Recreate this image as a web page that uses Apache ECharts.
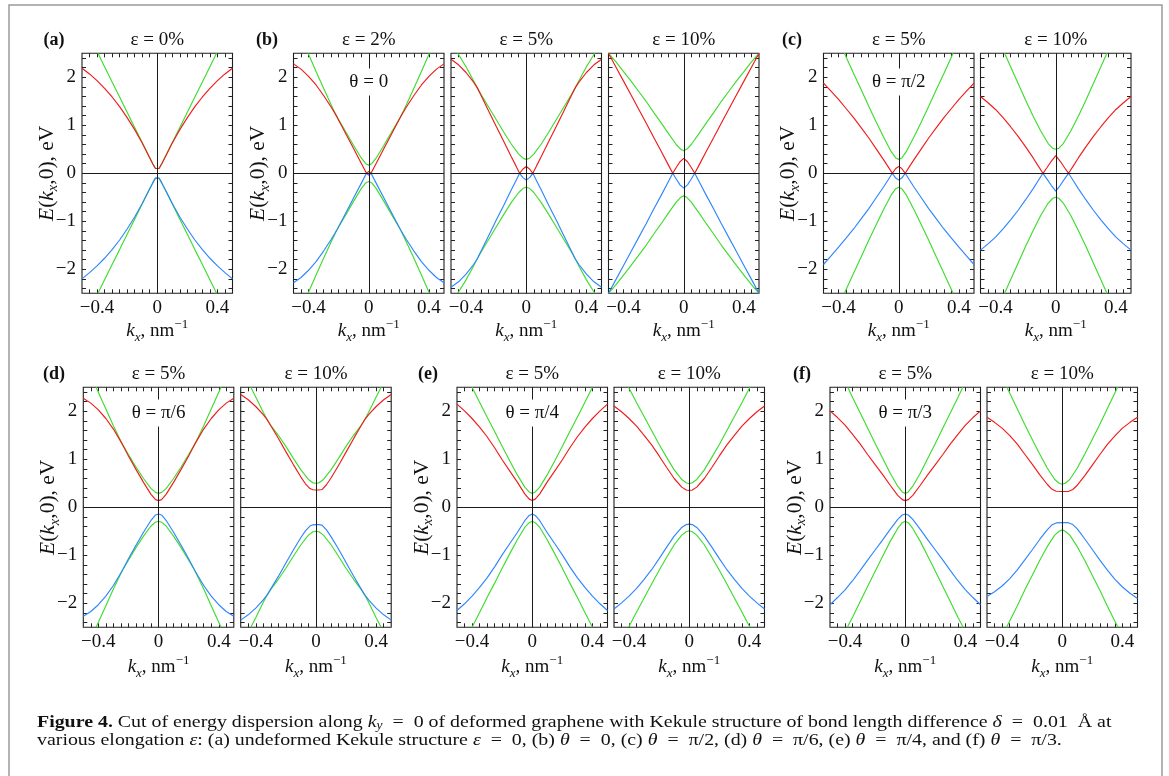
<!DOCTYPE html>
<html><head><meta charset="utf-8">
<script src="https://cdn.jsdelivr.net/npm/echarts@6/dist/echarts.min.js"></script>
<style>html,body{margin:0;padding:0;background:#fff}#c{width:1169px;height:776px}</style>
</head><body><div id="c"></div><script>
// ---------- axis ticks / labels ----------
const X_LABELS = [-0.4, 0, 0.4];
const Y_LABELS = [-2, -1, 0, 1, 2];
const X_TICKS = [-0.45,-0.4,-0.35,-0.3,-0.25,-0.2,-0.15,-0.1,-0.05,0,0.05,0.1,0.15,0.2,0.25,0.3,0.35,0.4,0.45];
const Y_TICKS = [-2.4,-2.2,-2,-1.8,-1.6,-1.4,-1.2,-1,-0.8,-0.6,-0.4,-0.2,0,0.2,0.4,0.6,0.8,1,1.2,1.4,1.6,1.8,2,2.2,2.4];

// ---------- panel texts ----------
const TITLES = ['ε = 0%','ε = 2%','ε = 5%','ε = 10%','ε = 5%','ε = 10%','ε = 5%','ε = 10%','ε = 5%','ε = 10%','ε = 5%','ε = 10%'];

// ---------- data: [kx, E] ----------
// (a) eps = 0
const A_gu = [[-0.394,2.5],[-0.35,2.22],[-0.3,1.9],[-0.25,1.59],[-0.2,1.27],[-0.15,0.955],[-0.1,0.64],[-0.06,0.39],[-0.03,0.2],[-0.012,0.1],[0,0.06],[0.012,0.1],[0.03,0.2],[0.06,0.39],[0.1,0.64],[0.15,0.955],[0.2,1.27],[0.25,1.59],[0.3,1.9],[0.35,2.22],[0.394,2.5]];
const A_gl = [[-0.394,-2.5],[-0.35,-2.22],[-0.3,-1.9],[-0.25,-1.59],[-0.2,-1.27],[-0.15,-0.955],[-0.1,-0.64],[-0.06,-0.39],[-0.03,-0.2],[-0.012,-0.1],[0,-0.06],[0.012,-0.1],[0.03,-0.2],[0.06,-0.39],[0.1,-0.64],[0.15,-0.955],[0.2,-1.27],[0.25,-1.59],[0.3,-1.9],[0.35,-2.22],[0.394,-2.5]];
const A_r = [[-0.5,2.19],[-0.45,2.07],[-0.4,1.93],[-0.35,1.77],[-0.3,1.59],[-0.25,1.39],[-0.2,1.16],[-0.15,0.91],[-0.1,0.63],[-0.06,0.38],[-0.03,0.2],[-0.012,0.1],[0,0.06],[0.012,0.1],[0.03,0.2],[0.06,0.38],[0.1,0.63],[0.15,0.91],[0.2,1.16],[0.25,1.39],[0.3,1.59],[0.35,1.77],[0.4,1.93],[0.45,2.07],[0.5,2.19]];
const A_b = [[-0.5,-2.2],[-0.45,-2.07],[-0.4,-1.93],[-0.35,-1.77],[-0.3,-1.59],[-0.25,-1.39],[-0.2,-1.16],[-0.15,-0.91],[-0.1,-0.63],[-0.06,-0.38],[-0.03,-0.2],[-0.012,-0.1],[0,-0.06],[0.012,-0.1],[0.03,-0.2],[0.06,-0.38],[0.1,-0.63],[0.15,-0.91],[0.2,-1.16],[0.25,-1.39],[0.3,-1.59],[0.35,-1.77],[0.4,-1.93],[0.45,-2.07],[0.5,-2.2]];

// (b) theta = 0, eps = 2%
const B2_gu = [[-0.403,2.5],[-0.35,2.12],[-0.3,1.77],[-0.25,1.43],[-0.212,1.18],[-0.15,0.85],[-0.1,0.58],[-0.05,0.32],[-0.02,0.2],[0,0.17],[0.02,0.2],[0.05,0.32],[0.1,0.58],[0.15,0.85],[0.212,1.18],[0.25,1.43],[0.3,1.77],[0.35,2.12],[0.403,2.5]];
const B2_gl = [[-0.403,-2.5],[-0.35,-2.12],[-0.3,-1.77],[-0.25,-1.43],[-0.212,-1.18],[-0.15,-0.85],[-0.1,-0.58],[-0.05,-0.32],[-0.02,-0.2],[0,-0.17],[0.02,-0.2],[0.05,-0.32],[0.1,-0.58],[0.15,-0.85],[0.212,-1.18],[0.25,-1.43],[0.3,-1.77],[0.35,-2.12],[0.403,-2.5]];
const B2_r = [[-0.5,2.28],[-0.45,2.17],[-0.4,2.02],[-0.35,1.84],[-0.3,1.62],[-0.25,1.38],[-0.212,1.18],[-0.15,0.81],[-0.1,0.51],[-0.05,0.21],[-0.015,0.0],[0,0.04],[0.015,0.0],[0.05,0.21],[0.1,0.51],[0.15,0.81],[0.212,1.18],[0.25,1.38],[0.3,1.62],[0.35,1.84],[0.4,2.02],[0.45,2.17],[0.5,2.28]];
const B2_b = [[-0.5,-2.28],[-0.45,-2.17],[-0.4,-2.02],[-0.35,-1.84],[-0.3,-1.62],[-0.25,-1.38],[-0.212,-1.18],[-0.15,-0.81],[-0.1,-0.51],[-0.05,-0.21],[-0.015,0.0],[0,-0.04],[0.015,0.0],[0.05,-0.21],[0.1,-0.51],[0.15,-0.81],[0.212,-1.18],[0.25,-1.38],[0.3,-1.62],[0.35,-1.84],[0.4,-2.02],[0.45,-2.17],[0.5,-2.28]];

// (b) theta = 0, eps = 5%
const B5_gu = [[-0.455,2.5],[-0.4,2.22],[-0.35,1.93],[-0.327,1.79],[-0.3,1.64],[-0.25,1.38],[-0.2,1.12],[-0.15,0.86],[-0.1,0.61],[-0.05,0.4],[-0.02,0.31],[0,0.29],[0.02,0.31],[0.05,0.4],[0.1,0.61],[0.15,0.86],[0.2,1.12],[0.25,1.38],[0.3,1.64],[0.327,1.79],[0.35,1.93],[0.4,2.22],[0.455,2.5]];
const B5_gl = [[-0.455,-2.5],[-0.4,-2.22],[-0.35,-1.93],[-0.327,-1.79],[-0.3,-1.64],[-0.25,-1.38],[-0.2,-1.12],[-0.15,-0.86],[-0.1,-0.61],[-0.05,-0.4],[-0.02,-0.31],[0,-0.29],[0.02,-0.31],[0.05,-0.4],[0.1,-0.61],[0.15,-0.86],[0.2,-1.12],[0.25,-1.38],[0.3,-1.64],[0.327,-1.79],[0.35,-1.93],[0.4,-2.22],[0.455,-2.5]];
const B5_r = [[-0.5,2.375],[-0.45,2.26],[-0.4,2.1],[-0.35,1.9],[-0.327,1.79],[-0.3,1.62],[-0.25,1.3],[-0.2,0.98],[-0.15,0.67],[-0.1,0.35],[-0.07,0.165],[-0.044,0.0],[-0.022,0.09],[0,0.14],[0.022,0.09],[0.044,0.0],[0.07,0.165],[0.1,0.35],[0.15,0.67],[0.2,0.98],[0.25,1.3],[0.3,1.62],[0.327,1.79],[0.35,1.9],[0.4,2.1],[0.45,2.26],[0.5,2.375]];
const B5_b = [[-0.5,-2.375],[-0.45,-2.26],[-0.4,-2.1],[-0.35,-1.9],[-0.327,-1.79],[-0.3,-1.62],[-0.25,-1.3],[-0.2,-0.98],[-0.15,-0.67],[-0.1,-0.35],[-0.07,-0.165],[-0.044,0.0],[-0.022,-0.09],[0,-0.14],[0.022,-0.09],[0.044,0.0],[0.07,-0.165],[0.1,-0.35],[0.15,-0.67],[0.2,-0.98],[0.25,-1.3],[0.3,-1.62],[0.327,-1.79],[0.35,-1.9],[0.4,-2.1],[0.45,-2.26],[0.5,-2.375]];

// (b) theta = 0, eps = 10%
const B10_gu = [[-0.5,2.5],[-0.45,2.32],[-0.4,2.12],[-0.35,1.92],[-0.3,1.71],[-0.25,1.5],[-0.2,1.27],[-0.15,1.05],[-0.1,0.82],[-0.05,0.6],[-0.02,0.5],[0,0.47],[0.02,0.5],[0.05,0.6],[0.1,0.82],[0.15,1.05],[0.2,1.27],[0.25,1.5],[0.3,1.71],[0.35,1.92],[0.4,2.12],[0.45,2.32],[0.5,2.5]];
const B10_gl = [[-0.5,-2.5],[-0.45,-2.32],[-0.4,-2.12],[-0.35,-1.92],[-0.3,-1.71],[-0.25,-1.5],[-0.2,-1.27],[-0.15,-1.05],[-0.1,-0.82],[-0.05,-0.6],[-0.02,-0.5],[0,-0.47],[0.02,-0.5],[0.05,-0.6],[0.1,-0.82],[0.15,-1.05],[0.2,-1.27],[0.25,-1.5],[0.3,-1.71],[0.35,-1.92],[0.4,-2.12],[0.45,-2.32],[0.5,-2.5]];
const B10_r = [[-0.5,2.5],[-0.45,2.21],[-0.4,1.92],[-0.35,1.63],[-0.3,1.34],[-0.25,1.05],[-0.2,0.75],[-0.15,0.46],[-0.1,0.16],[-0.073,0.0],[-0.05,0.12],[-0.025,0.24],[0,0.31],[0.025,0.24],[0.05,0.12],[0.073,0.0],[0.1,0.16],[0.15,0.46],[0.2,0.75],[0.25,1.05],[0.3,1.34],[0.35,1.63],[0.4,1.92],[0.45,2.21],[0.5,2.5]];
const B10_b = [[-0.5,-2.5],[-0.45,-2.21],[-0.4,-1.92],[-0.35,-1.63],[-0.3,-1.34],[-0.25,-1.05],[-0.2,-0.75],[-0.15,-0.46],[-0.1,-0.16],[-0.073,0.0],[-0.05,-0.12],[-0.025,-0.24],[0,-0.31],[0.025,-0.24],[0.05,-0.12],[0.073,0.0],[0.1,-0.16],[0.15,-0.46],[0.2,-0.75],[0.25,-1.05],[0.3,-1.34],[0.35,-1.63],[0.4,-1.92],[0.45,-2.21],[0.5,-2.5]];

// (c) theta = pi/2, eps = 5%
const C5_gu = [[-0.361,2.5],[-0.3,2.08],[-0.25,1.745],[-0.2,1.4],[-0.15,1.07],[-0.1,0.75],[-0.05,0.45],[-0.02,0.32],[0,0.29],[0.02,0.32],[0.05,0.45],[0.1,0.75],[0.15,1.07],[0.2,1.4],[0.25,1.745],[0.3,2.08],[0.361,2.5]];
const C5_gl = [[-0.361,-2.5],[-0.3,-2.08],[-0.25,-1.745],[-0.2,-1.4],[-0.15,-1.07],[-0.1,-0.75],[-0.05,-0.45],[-0.02,-0.32],[0,-0.29],[0.02,-0.32],[0.05,-0.45],[0.1,-0.75],[0.15,-1.07],[0.2,-1.4],[0.25,-1.745],[0.3,-2.08],[0.361,-2.5]];
const C5_r = [[-0.5,1.88],[-0.45,1.71],[-0.4,1.54],[-0.35,1.35],[-0.3,1.16],[-0.25,0.95],[-0.2,0.74],[-0.15,0.51],[-0.1,0.28],[-0.07,0.135],[-0.043,0.0],[-0.02,0.1],[0,0.14],[0.02,0.1],[0.043,0.0],[0.07,0.135],[0.1,0.28],[0.15,0.51],[0.2,0.74],[0.25,0.95],[0.3,1.16],[0.35,1.35],[0.4,1.54],[0.45,1.71],[0.5,1.88]];
const C5_b = [[-0.5,-1.9],[-0.45,-1.72],[-0.4,-1.54],[-0.35,-1.35],[-0.3,-1.16],[-0.25,-0.95],[-0.2,-0.74],[-0.15,-0.51],[-0.1,-0.28],[-0.07,-0.135],[-0.043,0.0],[-0.02,-0.1],[0,-0.14],[0.02,-0.1],[0.043,0.0],[0.07,-0.135],[0.1,-0.28],[0.15,-0.51],[0.2,-0.74],[0.25,-0.95],[0.3,-1.16],[0.35,-1.35],[0.4,-1.54],[0.45,-1.72],[0.5,-1.9]];

// (c) theta = pi/2, eps = 10%
const C10_gu = [[-0.34,2.5],[-0.3,2.22],[-0.25,1.87],[-0.2,1.52],[-0.15,1.19],[-0.1,0.88],[-0.05,0.62],[-0.02,0.52],[0,0.5],[0.02,0.52],[0.05,0.62],[0.1,0.88],[0.15,1.19],[0.2,1.52],[0.25,1.87],[0.3,2.22],[0.34,2.5]];
const C10_gl = [[-0.34,-2.5],[-0.3,-2.22],[-0.25,-1.87],[-0.2,-1.52],[-0.15,-1.19],[-0.1,-0.88],[-0.05,-0.62],[-0.02,-0.52],[0,-0.5],[0.02,-0.52],[0.05,-0.62],[0.1,-0.88],[0.15,-1.19],[0.2,-1.52],[0.25,-1.87],[0.3,-2.22],[0.34,-2.5]];
const C10_r = [[-0.5,1.6],[-0.45,1.47],[-0.4,1.33],[-0.35,1.16],[-0.3,0.97],[-0.25,0.77],[-0.2,0.55],[-0.15,0.32],[-0.12,0.17],[-0.085,0.0],[-0.06,0.11],[-0.03,0.25],[0,0.37],[0.03,0.25],[0.06,0.11],[0.085,0.0],[0.12,0.17],[0.15,0.32],[0.2,0.55],[0.25,0.77],[0.3,0.97],[0.35,1.16],[0.4,1.33],[0.45,1.47],[0.5,1.6]];
const C10_b = [[-0.5,-1.6],[-0.45,-1.47],[-0.4,-1.33],[-0.35,-1.16],[-0.3,-0.97],[-0.25,-0.77],[-0.2,-0.55],[-0.15,-0.32],[-0.12,-0.17],[-0.085,0.0],[-0.06,-0.11],[-0.03,-0.25],[0,-0.37],[0.03,-0.25],[0.06,-0.11],[0.085,0.0],[0.12,-0.17],[0.15,-0.32],[0.2,-0.55],[0.25,-0.77],[0.3,-0.97],[0.35,-1.16],[0.4,-1.33],[0.45,-1.47],[0.5,-1.6]];

// (d) theta = pi/6, eps = 5%
const D5_gu = [[-0.415,2.5],[-0.35,2.05],[-0.3,1.7],[-0.238,1.3],[-0.2,1.1],[-0.15,0.84],[-0.1,0.6],[-0.05,0.39],[-0.02,0.31],[0,0.29],[0.02,0.31],[0.05,0.39],[0.1,0.6],[0.15,0.84],[0.2,1.1],[0.238,1.3],[0.3,1.7],[0.35,2.05],[0.415,2.5]];
const D5_gl = [[-0.415,-2.5],[-0.35,-2.05],[-0.3,-1.7],[-0.238,-1.3],[-0.2,-1.1],[-0.15,-0.84],[-0.1,-0.6],[-0.05,-0.39],[-0.02,-0.31],[0,-0.29],[0.02,-0.31],[0.05,-0.39],[0.1,-0.6],[0.15,-0.84],[0.2,-1.1],[0.238,-1.3],[0.3,-1.7],[0.35,-2.05],[0.415,-2.5]];
const D5_r = [[-0.5,2.27],[-0.45,2.17],[-0.4,2.03],[-0.35,1.85],[-0.3,1.63],[-0.238,1.3],[-0.2,1.07],[-0.15,0.79],[-0.1,0.52],[-0.05,0.27],[-0.02,0.16],[0,0.14],[0.02,0.16],[0.05,0.27],[0.1,0.52],[0.15,0.79],[0.2,1.07],[0.238,1.3],[0.3,1.63],[0.35,1.85],[0.4,2.03],[0.45,2.17],[0.5,2.27]];
const D5_b = [[-0.5,-2.27],[-0.45,-2.17],[-0.4,-2.03],[-0.35,-1.85],[-0.3,-1.63],[-0.238,-1.3],[-0.2,-1.07],[-0.15,-0.79],[-0.1,-0.52],[-0.05,-0.27],[-0.02,-0.16],[0,-0.14],[0.02,-0.16],[0.05,-0.27],[0.1,-0.52],[0.15,-0.79],[0.2,-1.07],[0.238,-1.3],[0.3,-1.63],[0.35,-1.85],[0.4,-2.03],[0.45,-2.17],[0.5,-2.27]];

// (d) theta = pi/6, eps = 10%
const D10_gu = [[-0.433,2.5],[-0.4,2.3],[-0.35,1.98],[-0.323,1.82],[-0.3,1.71],[-0.25,1.5],[-0.2,1.27],[-0.15,1.02],[-0.1,0.78],[-0.05,0.58],[-0.02,0.51],[0,0.5],[0.02,0.51],[0.05,0.58],[0.1,0.78],[0.15,1.02],[0.2,1.27],[0.25,1.5],[0.3,1.71],[0.323,1.82],[0.35,1.98],[0.4,2.3],[0.433,2.5]];
const D10_gl = [[-0.433,-2.5],[-0.4,-2.3],[-0.35,-1.98],[-0.323,-1.82],[-0.3,-1.71],[-0.25,-1.5],[-0.2,-1.27],[-0.15,-1.02],[-0.1,-0.78],[-0.05,-0.58],[-0.02,-0.51],[0,-0.5],[0.02,-0.51],[0.05,-0.58],[0.1,-0.78],[0.15,-1.02],[0.2,-1.27],[0.25,-1.5],[0.3,-1.71],[0.323,-1.82],[0.35,-1.98],[0.4,-2.3],[0.433,-2.5]];
const D10_r = [[-0.5,2.35],[-0.45,2.24],[-0.4,2.1],[-0.35,1.93],[-0.323,1.82],[-0.3,1.7],[-0.25,1.44],[-0.2,1.16],[-0.15,0.89],[-0.1,0.63],[-0.07,0.49],[-0.04,0.39],[-0.02,0.365],[0,0.36],[0.02,0.36],[0.04,0.37],[0.07,0.47],[0.1,0.61],[0.15,0.87],[0.2,1.15],[0.25,1.43],[0.3,1.7],[0.323,1.82],[0.35,1.93],[0.4,2.1],[0.45,2.24],[0.5,2.35]];
const D10_b = [[-0.5,-2.35],[-0.45,-2.24],[-0.4,-2.1],[-0.35,-1.93],[-0.323,-1.82],[-0.3,-1.7],[-0.25,-1.44],[-0.2,-1.16],[-0.15,-0.89],[-0.1,-0.63],[-0.07,-0.49],[-0.04,-0.39],[-0.02,-0.365],[0,-0.36],[0.02,-0.36],[0.04,-0.37],[0.07,-0.47],[0.1,-0.61],[0.15,-0.87],[0.2,-1.15],[0.25,-1.43],[0.3,-1.7],[0.323,-1.82],[0.35,-1.93],[0.4,-2.1],[0.45,-2.24],[0.5,-2.35]];

// (e) theta = pi/4, eps = 5%
const E5_gu = [[-0.4,2.5],[-0.35,2.19],[-0.3,1.88],[-0.25,1.58],[-0.2,1.27],[-0.15,0.97],[-0.1,0.68],[-0.05,0.42],[-0.02,0.32],[0,0.29],[0.02,0.32],[0.05,0.42],[0.1,0.68],[0.15,0.97],[0.2,1.27],[0.25,1.58],[0.3,1.88],[0.35,2.19],[0.4,2.5]];
const E5_gl = [[-0.4,-2.5],[-0.35,-2.19],[-0.3,-1.88],[-0.25,-1.58],[-0.2,-1.27],[-0.15,-0.97],[-0.1,-0.68],[-0.05,-0.42],[-0.02,-0.32],[0,-0.29],[0.02,-0.32],[0.05,-0.42],[0.1,-0.68],[0.15,-0.97],[0.2,-1.27],[0.25,-1.58],[0.3,-1.88],[0.35,-2.19],[0.4,-2.5]];
const E5_r = [[-0.5,2.15],[-0.45,2.01],[-0.4,1.85],[-0.35,1.67],[-0.3,1.47],[-0.25,1.24],[-0.2,0.99],[-0.15,0.76],[-0.1,0.53],[-0.05,0.28],[-0.02,0.17],[0,0.14],[0.02,0.17],[0.05,0.28],[0.1,0.53],[0.15,0.76],[0.2,0.99],[0.25,1.24],[0.3,1.47],[0.35,1.67],[0.4,1.85],[0.45,2.01],[0.5,2.15]];
const E5_b = [[-0.5,-2.15],[-0.45,-2.01],[-0.4,-1.85],[-0.35,-1.67],[-0.3,-1.47],[-0.25,-1.24],[-0.2,-0.99],[-0.15,-0.76],[-0.1,-0.53],[-0.05,-0.28],[-0.02,-0.17],[0,-0.14],[0.02,-0.17],[0.05,-0.28],[0.1,-0.53],[0.15,-0.76],[0.2,-0.99],[0.25,-1.24],[0.3,-1.47],[0.35,-1.67],[0.4,-1.85],[0.45,-2.01],[0.5,-2.15]];

// (e) theta = pi/4, eps = 10%
const E10_gu = [[-0.403,2.5],[-0.35,2.18],[-0.3,1.89],[-0.25,1.6],[-0.2,1.31],[-0.15,1.04],[-0.1,0.78],[-0.05,0.58],[-0.02,0.51],[0,0.49],[0.02,0.51],[0.05,0.58],[0.1,0.78],[0.15,1.04],[0.2,1.31],[0.25,1.6],[0.3,1.89],[0.35,2.18],[0.403,2.5]];
const E10_gl = [[-0.403,-2.5],[-0.35,-2.18],[-0.3,-1.89],[-0.25,-1.6],[-0.2,-1.31],[-0.15,-1.04],[-0.1,-0.78],[-0.05,-0.58],[-0.02,-0.51],[0,-0.49],[0.02,-0.51],[0.05,-0.58],[0.1,-0.78],[0.15,-1.04],[0.2,-1.31],[0.25,-1.6],[0.3,-1.89],[0.35,-2.18],[0.403,-2.5]];
const E10_r = [[-0.5,2.11],[-0.45,1.99],[-0.4,1.85],[-0.35,1.69],[-0.3,1.5],[-0.25,1.3],[-0.2,1.07],[-0.15,0.83],[-0.1,0.6],[-0.05,0.42],[-0.02,0.36],[0,0.35],[0.02,0.36],[0.05,0.42],[0.1,0.6],[0.15,0.83],[0.2,1.07],[0.25,1.3],[0.3,1.5],[0.35,1.69],[0.4,1.85],[0.45,1.99],[0.5,2.11]];
const E10_b = [[-0.5,-2.12],[-0.45,-1.99],[-0.4,-1.85],[-0.35,-1.69],[-0.3,-1.5],[-0.25,-1.3],[-0.2,-1.07],[-0.15,-0.83],[-0.1,-0.6],[-0.05,-0.42],[-0.02,-0.36],[0,-0.35],[0.02,-0.36],[0.05,-0.42],[0.1,-0.6],[0.15,-0.83],[0.2,-1.07],[0.25,-1.3],[0.3,-1.5],[0.35,-1.69],[0.4,-1.85],[0.45,-1.99],[0.5,-2.12]];

// (f) theta = pi/3, eps = 5%
const F5_gu = [[-0.382,2.5],[-0.35,2.29],[-0.3,1.97],[-0.25,1.65],[-0.2,1.33],[-0.15,1.02],[-0.1,0.71],[-0.05,0.44],[-0.02,0.32],[0,0.29],[0.02,0.32],[0.05,0.44],[0.1,0.71],[0.15,1.02],[0.2,1.33],[0.25,1.65],[0.3,1.97],[0.35,2.29],[0.382,2.5]];
const F5_gl = [[-0.385,-2.5],[-0.35,-2.29],[-0.3,-1.97],[-0.25,-1.65],[-0.2,-1.33],[-0.15,-1.02],[-0.1,-0.71],[-0.05,-0.44],[-0.02,-0.32],[0,-0.29],[0.02,-0.32],[0.05,-0.44],[0.1,-0.71],[0.15,-1.02],[0.2,-1.33],[0.25,-1.65],[0.3,-1.97],[0.35,-2.29],[0.385,-2.5]];
const F5_r = [[-0.5,2.01],[-0.45,1.87],[-0.4,1.71],[-0.35,1.52],[-0.3,1.32],[-0.25,1.1],[-0.2,0.89],[-0.15,0.68],[-0.1,0.46],[-0.05,0.25],[-0.02,0.16],[0,0.14],[0.02,0.16],[0.05,0.25],[0.1,0.46],[0.15,0.68],[0.2,0.89],[0.25,1.1],[0.3,1.32],[0.35,1.52],[0.4,1.71],[0.45,1.87],[0.5,2.01]];
const F5_b = [[-0.5,-2.03],[-0.45,-1.88],[-0.4,-1.72],[-0.35,-1.53],[-0.3,-1.32],[-0.25,-1.1],[-0.2,-0.89],[-0.15,-0.68],[-0.1,-0.46],[-0.05,-0.25],[-0.02,-0.16],[0,-0.14],[0.02,-0.16],[0.05,-0.25],[0.1,-0.46],[0.15,-0.68],[0.2,-0.89],[0.25,-1.1],[0.3,-1.32],[0.35,-1.53],[0.4,-1.72],[0.45,-1.88],[0.5,-2.03]];

// (f) theta = pi/3, eps = 10%
const F10_gu = [[-0.368,2.5],[-0.3,2.06],[-0.25,1.73],[-0.2,1.42],[-0.15,1.11],[-0.1,0.82],[-0.05,0.58],[-0.02,0.5],[0,0.48],[0.02,0.5],[0.05,0.58],[0.1,0.82],[0.15,1.11],[0.2,1.42],[0.25,1.73],[0.3,2.06],[0.368,2.5]];
const F10_gl = [[-0.37,-2.5],[-0.3,-2.06],[-0.25,-1.73],[-0.2,-1.42],[-0.15,-1.11],[-0.1,-0.82],[-0.05,-0.58],[-0.02,-0.5],[0,-0.47],[0.02,-0.5],[0.05,-0.58],[0.1,-0.82],[0.15,-1.11],[0.2,-1.42],[0.25,-1.73],[0.3,-2.06],[0.37,-2.5]];
const F10_r = [[-0.5,1.875],[-0.45,1.77],[-0.4,1.65],[-0.35,1.5],[-0.3,1.32],[-0.25,1.11],[-0.2,0.9],[-0.15,0.68],[-0.1,0.48],[-0.07,0.38],[-0.04,0.335],[0,0.33],[0.04,0.33],[0.07,0.37],[0.1,0.46],[0.15,0.66],[0.2,0.88],[0.25,1.1],[0.3,1.31],[0.35,1.49],[0.4,1.65],[0.45,1.77],[0.5,1.875]];
const F10_b = [[-0.5,-1.86],[-0.45,-1.76],[-0.4,-1.64],[-0.35,-1.49],[-0.3,-1.31],[-0.25,-1.1],[-0.2,-0.89],[-0.15,-0.67],[-0.1,-0.47],[-0.07,-0.37],[-0.04,-0.325],[0,-0.32],[0.04,-0.32],[0.07,-0.36],[0.1,-0.45],[0.15,-0.66],[0.2,-0.88],[0.25,-1.1],[0.3,-1.31],[0.35,-1.5],[0.4,-1.66],[0.45,-1.79],[0.5,-1.9]];

// ---------- layout (positions only) ----------
const F = '"Liberation Serif","Times New Roman",serif';
const INK = '#111';
const COL = {green:'#3fdc2f', red:'#ee1c1c', blue:'#2f86ff'};
const GW = 150.5, GH = 240;
const PANELS = [
  {gu:A_gu, gl:A_gl, r:A_r, b:A_b, left:82, top:53.3, ylab:true},
  {gu:B2_gu, gl:B2_gl, r:B2_r, b:B2_b, left:293.5, top:53.3, ylab:true},
  {gu:B5_gu, gl:B5_gl, r:B5_r, b:B5_b, left:451, top:53.3},
  {gu:B10_gu, gl:B10_gl, r:B10_r, b:B10_b, left:608.5, top:53.3},
  {gu:C5_gu, gl:C5_gl, r:C5_r, b:C5_b, left:823.5, top:53.3, ylab:true},
  {gu:C10_gu, gl:C10_gl, r:C10_r, b:C10_b, left:980.5, top:53.3},
  {gu:D5_gu, gl:D5_gl, r:D5_r, b:D5_b, left:83.3, top:387.3, ylab:true},
  {gu:D10_gu, gl:D10_gl, r:D10_r, b:D10_b, left:240.7, top:387.3},
  {gu:E5_gu, gl:E5_gl, r:E5_r, b:E5_b, left:457, top:387.3, ylab:true},
  {gu:E10_gu, gl:E10_gl, r:E10_r, b:E10_b, left:614, top:387.3},
  {gu:F5_gu, gl:F5_gl, r:F5_r, b:F5_b, left:830, top:387.3, ylab:true},
  {gu:F10_gu, gl:F10_gl, r:F10_r, b:F10_b, left:987, top:387.3}
];
const LETTERS = [['(a)',54,40],['(b)',267,40],['(c)',792,40],['(d)',54,374],['(e)',428,374],['(f)',802,374]];
const THETAS = [[1,'θ = 0',82],[4,'θ = π/2',82],[6,'θ = π/6',413],[8,'θ = π/4',413],[10,'θ = π/3',413]];

const fmt = v => (v < 0 ? '−' : '') + String(Math.abs(v));
const RICH = {
  n:{fontFamily:F, fontSize:19, lineHeight:26, color:INK},
  i:{fontFamily:F, fontSize:19, fontStyle:'italic', lineHeight:26, color:INK},
  s:{fontFamily:F, fontSize:13, fontStyle:'italic', lineHeight:13, verticalAlign:'bottom', color:INK},
  p:{fontFamily:F, fontSize:13, lineHeight:13, verticalAlign:'top', color:INK}
};
const RICH_Y = {
  n:{fontFamily:F, fontSize:21.5, lineHeight:28, color:INK},
  i:{fontFamily:F, fontSize:21.5, fontStyle:'italic', lineHeight:28, color:INK},
  s:{fontFamily:F, fontSize:14.5, fontStyle:'italic', lineHeight:14, verticalAlign:'bottom', color:INK}
};
const tickStyle = {color:'#222', width:1};

const grid = [], xAxis = [], yAxis = [], series = [], graphic = [];
PANELS.forEach((p, i) => {
  grid.push({left:p.left, top:p.top, width:GW, height:GH, show:true, borderColor:'#1e1e1e', borderWidth:1.1, backgroundColor:'transparent'});
  xAxis.push({type:'value', gridIndex:i, min:-0.5, max:0.5, position:'bottom',
    axisLine:{show:false, onZero:false}, splitLine:{show:false},
    axisTick:{show:true, inside:true, length:4, customValues:X_TICKS, lineStyle:tickStyle},
    axisLabel:{show:true, customValues:X_LABELS, formatter:fmt, margin:5, fontFamily:F, fontSize:19, color:INK},
    name:'{i|k}{s|x}{n|, nm}{p|−1}', nameLocation:'middle', nameGap: p.top < 100 ? 25 : 27,
    nameTextStyle:{fontFamily:F, fontSize:19, color:INK, rich:RICH}});
  xAxis.push({type:'value', gridIndex:i, min:-0.5, max:0.5, position:'top',
    axisLine:{show:false, onZero:false}, splitLine:{show:false},
    axisTick:{show:true, inside:true, length:4, customValues:X_TICKS, lineStyle:tickStyle},
    axisLabel:{show:false}});
  yAxis.push({type:'value', gridIndex:i, min:-2.5, max:2.5, position:'left',
    axisLine:{show:false, onZero:false}, splitLine:{show:false},
    axisTick:{show:true, inside:true, length:4, customValues:Y_TICKS, lineStyle:tickStyle},
    axisLabel:{show:!!p.ylab, customValues:Y_LABELS, formatter:fmt, margin:6, fontFamily:F, fontSize:19, color:INK},
    name: p.ylab ? '{i|E}{n|(}{i|k}{s|x}{n|,0), eV}' : '', nameLocation:'middle', nameGap:21, nameRotate:90,
    nameMoveOverlap:false,
    nameTextStyle:{fontFamily:F, fontSize:21.5, color:INK, rich:RICH_Y}});
  yAxis.push({type:'value', gridIndex:i, min:-2.5, max:2.5, position:'right',
    axisLine:{show:false, onZero:false}, splitLine:{show:false},
    axisTick:{show:true, inside:true, length:4, customValues:Y_TICKS, lineStyle:tickStyle},
    axisLabel:{show:false}});
  const base = {type:'line', xAxisIndex:2*i, yAxisIndex:2*i, showSymbol:false, symbol:'none',
    smooth:false, clip:true, silent:true, emphasis:{disabled:true}, animation:false};
  series.push(Object.assign({}, base, {data:p.gu, lineStyle:{color:COL.green, width:1.15}, z:3,
    markLine:{silent:true, symbol:['none','none'], label:{show:false}, animation:false,
      lineStyle:{color:'#1a1a1a', width:1, type:'solid'}, emphasis:{disabled:true},
      data:[{yAxis:0},{xAxis:0}]}}));
  series.push(Object.assign({}, base, {data:p.gl, lineStyle:{color:COL.green, width:1.15}, z:3}));
  series.push(Object.assign({}, base, {data:p.b, lineStyle:{color:COL.blue, width:1.15}, z:4}));
  series.push(Object.assign({}, base, {data:p.r, lineStyle:{color:COL.red, width:1.15}, z:4}));
  graphic.push({type:'text', x:p.left + GW/2, y:p.top - 13.5, z:50,
    style:{text:TITLES[i], fontFamily:F, fontSize:19, fill:INK, align:'center', verticalAlign:'middle'}});
});
LETTERS.forEach(l => graphic.push({type:'text', x:l[1], y:l[2], z:50,
  style:{text:l[0], fontFamily:F, fontSize:18, fontWeight:'bold', fill:INK, align:'center', verticalAlign:'middle'}}));
THETAS.forEach(t => { const p = PANELS[t[0]]; graphic.push({type:'text', x:p.left + GW/2, y:t[2], z:60,
  style:{text:t[1], fontFamily:F, fontSize:19, fill:INK, align:'center', verticalAlign:'middle', backgroundColor:'#fff', padding:[4,2]}}); });

// frame
graphic.push({type:'rect', z:1, shape:{x:9, y:5, width:1153, height:820}, style:{fill:'none', stroke:'#9a9a9a', lineWidth:1.5}});
// caption
const CAP_RICH = {
  b:{fontFamily:F, fontSize:17, fontWeight:'bold', fill:INK},
  t:{fontFamily:F, fontSize:17, fill:INK},
  i:{fontFamily:F, fontSize:17, fontStyle:'italic', fill:INK},
  s:{fontFamily:F, fontSize:11.5, fontStyle:'italic', fill:INK, verticalAlign:'bottom', lineHeight:11}
};
graphic.push({type:'text', x:37, y:723, z:50, scaleX:1.17, originX:0, originY:0, style:{
  text:'{b|Figure 4.}{t| Cut of energy dispersion along }{i|k}{s|y}{t|  =  0 of deformed graphene with Kekule structure of bond length difference }{i|δ}{t|  =  0.01  Å at}',
  rich:CAP_RICH, fontFamily:F, fontSize:17, fill:INK, align:'left', verticalAlign:'middle'}});
graphic.push({type:'text', x:37, y:741, z:50, scaleX:1.17, originX:0, originY:0, style:{
  text:'{t|various elongation }{i|ε}{t|: (a) undeformed Kekule structure }{i|ε}{t|  =  0, (b) }{i|θ}{t|  =  0, (c) }{i|θ}{t|  =  π/2, (d) }{i|θ}{t|  =  π/6, (e) }{i|θ}{t|  =  π/4, and (f) }{i|θ}{t|  =  π/3.}',
  rich:CAP_RICH, fontFamily:F, fontSize:17, fill:INK, align:'left', verticalAlign:'middle'}});

const chart = echarts.init(document.getElementById('c'), null, {renderer:'canvas'});
chart.setOption({animation:false, backgroundColor:'#fff', grid, xAxis, yAxis, series, graphic});
</script></body></html>
